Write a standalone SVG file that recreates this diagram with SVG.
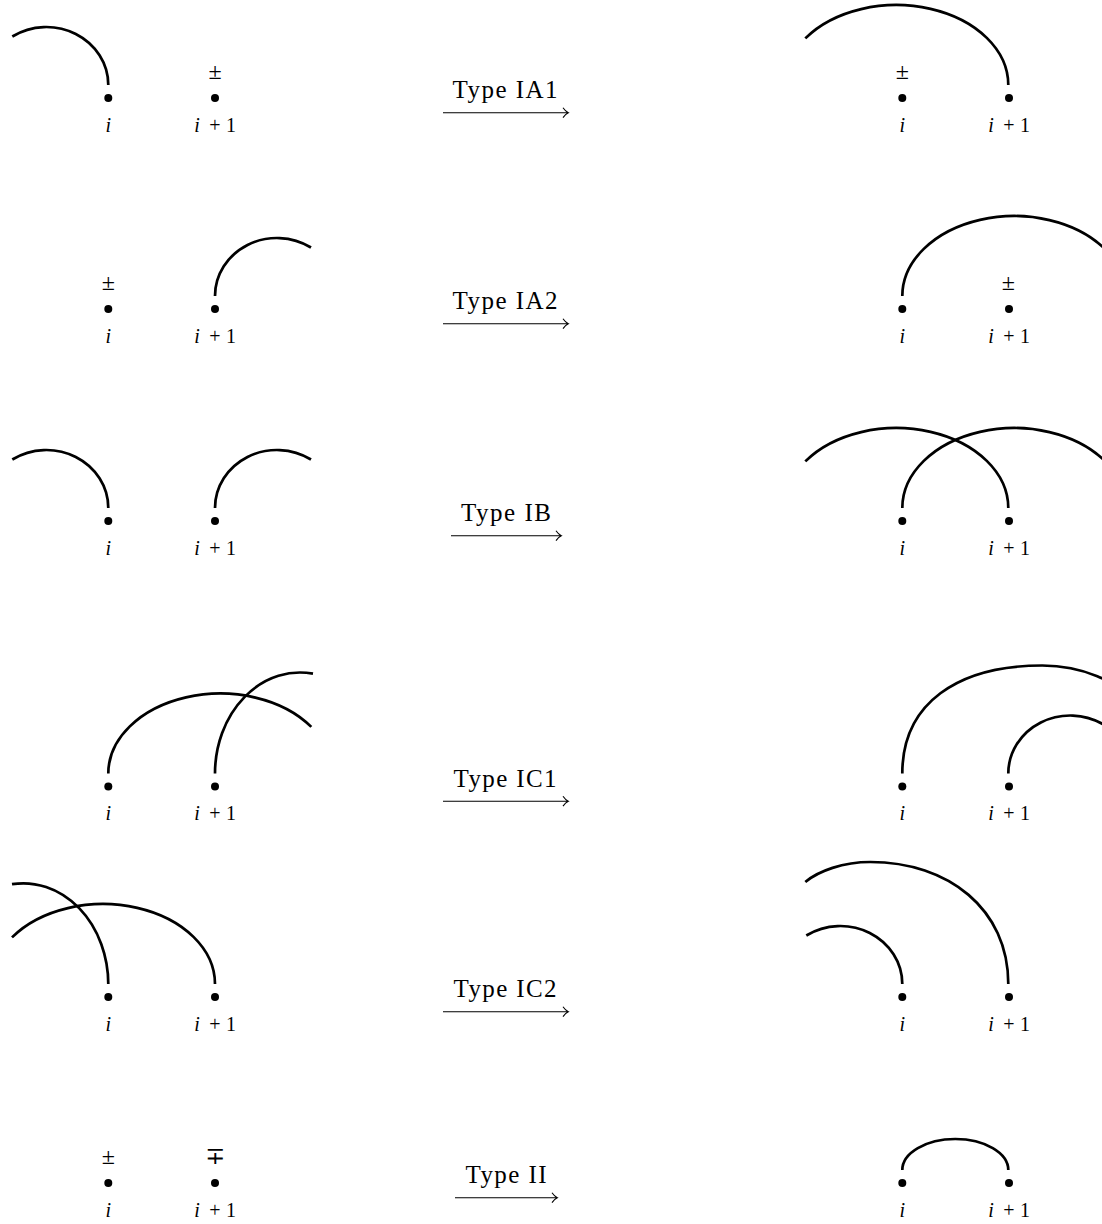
<svg xmlns="http://www.w3.org/2000/svg" width="1102" height="1224" viewBox="0 0 1102 1224">
<style>
.arc{fill:none;stroke:#000;stroke-width:2.7;stroke-linecap:butt}
.dot{fill:#000}
.mi{font-family:"Liberation Serif","DejaVu Serif",serif;font-style:italic;font-size:20px;text-anchor:middle}
.mr{font-family:"Liberation Serif","DejaVu Serif",serif;font-size:20px;text-anchor:middle}
.pm{font-family:"Liberation Serif","DejaVu Serif",serif;font-size:24px;text-anchor:middle}
.lab{font-family:"Liberation Serif","DejaVu Serif",serif;font-size:25px;text-anchor:middle}
.ar{fill:none;stroke:#000;stroke-width:1.1}
</style>
<defs>
<g id="lbl"><text class="mi" x="108.3" y="0">i</text><text class="mi" x="197" y="0">i</text><text class="mr" x="215" y="0">+</text><text class="mr" x="231" y="0">1</text></g>
<g id="dots"><circle class="dot" cx="108.3" cy="0" r="4"/><circle class="dot" cx="215" cy="0" r="4"/></g>
</defs>

<!-- Row 1 -->
<g id="r1-left">
<use href="#dots" y="98"/><use href="#lbl" y="131.5"/>
<text class="pm" x="215" y="79">±</text>
<path class="arc" d="M108.3,85 A62,58 0 0 0 12.3,36.5"/>
</g>
<g id="r1-right">
<use href="#dots" x="794" y="98"/><use href="#lbl" x="794" y="131.5"/>
<text class="pm" x="902.3" y="79">±</text>
<path class="arc" d="M1008.3,85 A112,80 0 0 0 805.3,38.4"/>
</g>

<!-- Row 2 -->
<g id="r2-left">
<use href="#dots" y="309"/><use href="#lbl" y="342.5"/>
<text class="pm" x="108.3" y="290">±</text>
<path class="arc" d="M215,296 A62,58 0 0 1 311,247.5"/>
</g>
<g id="r2-right">
<use href="#dots" x="794" y="309"/><use href="#lbl" x="794" y="342.5"/>
<text class="pm" x="1008.3" y="290">±</text>
<path class="arc" d="M902.3,296 A112,80 0 0 1 1105.3,249.4"/>
</g>

<!-- Row 3 -->
<g id="r3-left">
<use href="#dots" y="521"/><use href="#lbl" y="554.5"/>
<path class="arc" d="M108.3,508 A62,58 0 0 0 12.3,459.5"/>
<path class="arc" d="M215,508 A62,58 0 0 1 311,459.5"/>
</g>
<g id="r3-right">
<use href="#dots" x="794" y="521"/><use href="#lbl" x="794" y="554.5"/>
<path class="arc" d="M1008.3,508 A112,80 0 0 0 805.3,461.4"/>
<path class="arc" d="M902.3,508 A112,80 0 0 1 1105.3,461.4"/>
</g>

<!-- Row 4 -->
<g id="r4-left">
<use href="#dots" y="786.5"/><use href="#lbl" y="820"/>
<path class="arc" d="M108.3,773.5 A112,80 0 0 1 311.3,726.9"/>
<path class="arc" d="M215,773.5 A85,101 0 0 1 313,673.7"/>
</g>
<g id="r4-right">
<use href="#dots" x="794" y="786.5"/><use href="#lbl" x="794" y="820"/>
<path class="arc" d="M902.3,773.5 C902.3,703.5 957.3,665.5 1042.3,665.5 C1082.3,665.5 1117.3,681.5 1137.3,703.5"/>
<path class="arc" d="M1008.3,773.5 A62,58 0 0 1 1104.3,725"/>
</g>

<!-- Row 5 -->
<g id="r5-left">
<use href="#dots" y="997"/><use href="#lbl" y="1030.5"/>
<path class="arc" d="M108.3,984 A85,101 0 0 0 12,884.2"/>
<path class="arc" d="M215,984 A112,80 0 0 0 12,937.4"/>
</g>
<g id="r5-right">
<use href="#dots" x="794" y="997"/><use href="#lbl" x="794" y="1030.5"/>
<path class="arc" d="M1008.3,984 C1008.3,909 948.3,862 870.3,862 C843.3,862 818.3,871 805.3,882"/>
<path class="arc" d="M902.3,984 A62,58 0 0 0 806.3,935.5"/>
</g>

<!-- Row 6 -->
<g id="r6-left">
<use href="#dots" y="1183"/><use href="#lbl" y="1216.5"/>
<text class="pm" x="108.3" y="1164">±</text>
<text class="pm" x="215" y="1164">∓</text>
</g>
<g id="r6-right">
<use href="#dots" x="794" y="1183"/><use href="#lbl" x="794" y="1216.5"/>
<path class="arc" d="M902.3,1170 A53,31 0 0 1 1008.3,1170"/>
</g>

<!-- Connectors (transformation arrows) -->
<g id="connectors">
<g id="a1"><text class="lab" x="505" y="98.3" textLength="105" lengthAdjust="spacing">Type IA1</text>
<path class="ar" d="M443,112.7 H568 M563,107.8 Q565.5,111.5 568.3,112.7 Q565.5,114 563,117.6"/></g>
<g id="a2"><text class="lab" x="505" y="309.3" textLength="105" lengthAdjust="spacing">Type IA2</text>
<path class="ar" d="M443,323.7 H568 M563,318.8 Q565.5,322.5 568.3,323.7 Q565.5,325 563,328.6"/></g>
<g id="a3"><text class="lab" x="506" y="521.3" textLength="90" lengthAdjust="spacing">Type IB</text>
<path class="ar" d="M451,535.7 H561 M556,530.8 Q558.5,534.5 561.3,535.7 Q558.5,537 556,540.6"/></g>
<g id="a4"><text class="lab" x="505" y="786.8" textLength="103" lengthAdjust="spacing">Type IC1</text>
<path class="ar" d="M443,801.2 H568 M563,796.3 Q565.5,800 568.3,801.2 Q565.5,802.5 563,806.1"/></g>
<g id="a5"><text class="lab" x="505" y="997.3" textLength="103" lengthAdjust="spacing">Type IC2</text>
<path class="ar" d="M443,1011.7 H568 M563,1006.8 Q565.5,1010.5 568.3,1011.7 Q565.5,1013 563,1016.6"/></g>
<g id="a6"><text class="lab" x="506" y="1183.3" textLength="81" lengthAdjust="spacing">Type II</text>
<path class="ar" d="M455,1197.7 H557 M552,1192.8 Q554.5,1196.5 557.3,1197.7 Q554.5,1199 552,1202.6"/></g>
</g>
</svg>
